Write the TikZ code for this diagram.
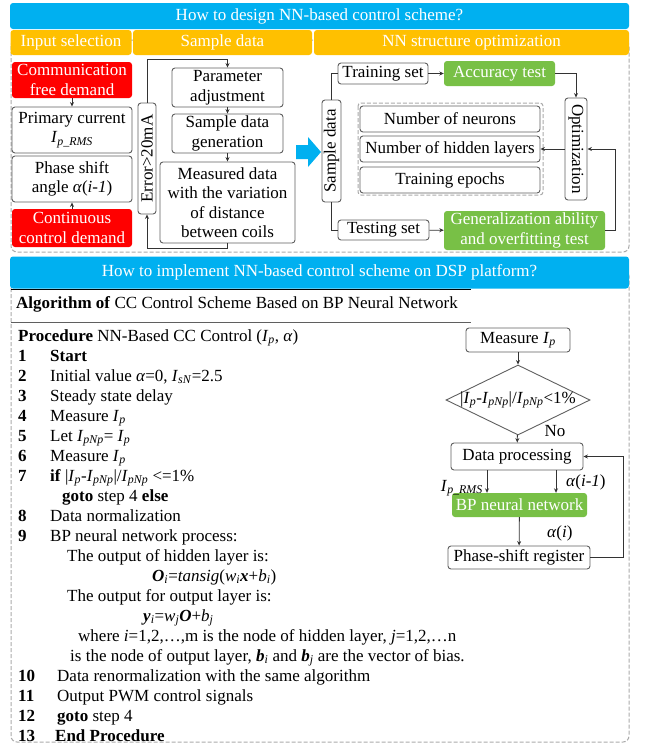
\documentclass[tikz,border=0pt]{standalone}
\usepackage{fontspec}
\usepackage{graphicx}
\setmainfont{Liberation Serif}
\usetikzlibrary{shapes.geometric,arrows.meta}

\definecolor{bannerblue}{RGB}{0,176,240}
\definecolor{headorange}{RGB}{255,192,0}
\definecolor{demandred}{RGB}{255,0,0}
\definecolor{testgreen}{RGB}{120,192,70}
\definecolor{boxgray}{RGB}{95,95,95}
\definecolor{framegray}{RGB}{170,170,170}

\newcommand{\Isub}[1]{\textit{I}\textsubscript{\textit{#1}}}

\tikzset{
	box/.style={draw=boxgray, line width=0.9pt, rounded corners=3pt, fill=white, align=center, inner sep=0pt},
	redbox/.style={fill=demandred, text=white, rounded corners=3pt, align=center, inner sep=0pt},
	greenbox/.style={fill=testgreen, text=white, rounded corners=3pt, align=center, inner sep=0pt},
	banner/.style={fill=bannerblue, text=white, rounded corners=3pt, inner sep=0pt},
	headcell/.style={fill=headorange, text=white, rounded corners=3pt, inner sep=0pt},
	dashframe/.style={draw=framegray, line width=1pt, dash pattern=on 4pt off 2pt, rounded corners=6pt},
	arr/.style={-{Stealth[length=4.5pt,width=4pt]}, draw=black!80, line width=0.8pt},
	link/.style={draw=black!80, line width=0.8pt},
	algtext/.style={anchor=base west, inner sep=0pt},
}

\begin{document}
\begin{tikzpicture}[x=1pt, y=-1pt, font=\fontsize{17}{19.5}\selectfont]
	\useasboundingbox (0,0) rectangle (647,744);

	% design part
	\draw[dashframe] (11,40) rectangle (629,252);
	\node[banner, minimum width=619, minimum height=26] (design) at (319.5,16) {How to design NN-based control scheme?};
	\node[headcell, minimum width=121, minimum height=25] (hinput) at (71,42.5) {Input selection};
	\node[headcell, minimum width=179, minimum height=25] (hsample) at (222.5,42.5) {Sample data};
	\node[headcell, minimum width=315, minimum height=25] (hstruct) at (471.5,42.5) {NN structure optimization};

	% input selection
	\node[redbox, minimum width=120, minimum height=36] (commfree) at (72,80) {Communication\\free demand};
	\node[box, minimum width=120, minimum height=46] (current) at (72,130) {Primary current\\\Isub{p\_RMS}};
	\node[box, minimum width=120, minimum height=46] (phase) at (72,179) {Phase shift\\angle \textit{α}(\textit{i}-\textit{1})};
	\node[redbox, minimum width=120, minimum height=38] (contdem) at (72,228) {Continuous\\control demand};
	\draw[arr] (commfree) -- (current);
	\draw[arr] (contdem) -- (phase);

	% sample data
	\node[box, minimum width=18, minimum height=111] (error) at (147,158.5) {\rotatebox{90}{Error>20mA}};
	\node[box, minimum width=111, minimum height=39] (param) at (227.5,87.5) {Parameter\\adjustment};
	\node[box, minimum width=111, minimum height=39] (gener) at (227.5,133.5) {Sample data\\generation};
	\node[box, minimum width=135, minimum height=81] (measured) at (227.5,202.5) {Measured data\\with the variation\\of distance\\between coils};
	\draw[arr] (error.north) -- ++(0,-43) -| (param.north);
	\draw[arr] (param) -- (gener);
	\draw[arr] (gener) -- (measured);
	\draw[arr] (measured.south) -- ++(0,5) -| (error.south);
	\fill[bannerblue] (296,145) -- (308,145) -- (308,137) -- (321,152) -- (308,167) -- (308,159) -- (296,159) -- cycle;

	% structure optimization
	\node[box, minimum width=19, minimum height=102] (sdata) at (331.5,151) {\rotatebox{90}{Sample data}};
	\node[box, minimum width=90, minimum height=21] (trainset) at (383,73.5) {Training set};
	\node[greenbox, minimum width=111, minimum height=25] (accuracy) at (499.5,73.5) {Accuracy test};
	\node[box, minimum width=22, minimum height=102] (optim) at (576,149) {\rotatebox{-90}{Optimization}};
	\draw[dashframe, rounded corners=3pt] (358,103) rectangle (543,195);
	\node[box, minimum width=180, minimum height=26] (neurons) at (450,119) {Number of neurons};
	\node[box, minimum width=180, minimum height=26] (hidden) at (450,149) {Number of hidden layers};
	\node[box, minimum width=180, minimum height=26] (epochs) at (450,180) {Training epochs};
	\node[box, minimum width=91, minimum height=20] (testset) at (383.5,230) {Testing set};
	\node[greenbox, minimum width=161, minimum height=39] (generalize) at (524.5,230.5) {Generalization ability\\and overfitting test};
	\draw[link] (sdata.north) |- (trainset.west);
	\draw[link] (sdata.south) |- (testset.west);
	\draw[arr] (trainset) -- (accuracy);
	\draw[arr] (testset) -- (generalize);
	\draw[arr] (accuracy.east) -| (optim.north);
	\draw[arr] (generalize.east) -- ++(10,0) |- (optim.east);
	\draw[arr] (optim.west) -- (hidden.east);

	% implementation part
	\draw[dashframe] (11,270) rectangle (629,742);
	\node[banner, minimum width=619, minimum height=32] (implement) at (319.5,272.5) {How to implement NN-based control scheme on DSP platform?};
	\draw[black, line width=1.3pt] (11,289.5) -- (471,289.5);
	\draw[boxgray, line width=0.7pt] (11,322) -- (471,322);
	\node[algtext] (algtitle) at (16,308.5) {\textbf{Algorithm of} CC Control Scheme Based on BP Neural Network};

	\foreach \n/\k in {1/1,2/2,3/3,4/4,5/5,6/6,7/7,8/9,9/10,10/17,11/18,12/19,13/20}
		\node[algtext] (n\n) at (18,341+20*\k) {\textbf{\n}};
	\node[algtext] (l0) at (18,341) {\textbf{Procedure} NN-Based CC Control (\Isub{p}, \textit{α})};
	\node[algtext] (l1) at (50,361) {\textbf{Start}};
	\node[algtext] (l2) at (50,381) {Initial value \textit{α}=0, \Isub{sN}=2.5};
	\node[algtext] (l3) at (50,401) {Steady state delay};
	\node[algtext] (l4) at (50,421) {Measure \Isub{p}};
	\node[algtext] (l5) at (50,441) {Let \Isub{pNp}= \Isub{p}};
	\node[algtext] (l6) at (50,461) {Measure \Isub{p}};
	\node[algtext] (l7) at (50,481) {\textbf{if} |\Isub{p}-\Isub{pNp}|/\Isub{pNp} <=1\%};
	\node[algtext] (l8) at (62,501) {\textbf{goto} step 4 \textbf{else}};
	\node[algtext] (l9) at (50,521) {Data normalization};
	\node[algtext] (l10) at (50,541) {BP neural network process:};
	\node[algtext] (l11) at (67,561) {The output of hidden layer is:};
	\node[algtext] (l12) at (152,581) {\textbf{\textit{O}}\textsubscript{\textit{i}}=\textit{tansig}(\textit{w}\textsubscript{\textit{i}}\textbf{\textit{x}}+\textit{b}\textsubscript{\textit{i}})};
	\node[algtext] (l13) at (67,601) {The output for output layer is:};
	\node[algtext] (l14) at (143,621) {\textbf{\textit{y}}\textsubscript{\textit{i}}=\textit{w}\textsubscript{\textit{j}}\textbf{\textit{O}}+\textit{b}\textsubscript{\textit{j}}};
	\node[algtext] (l15) at (78,641) {where \textit{i}=1,2,…,m is the node of hidden layer, \textit{j}=1,2,…n};
	\node[algtext] (l16) at (70,661) {is the node of output layer, \textbf{\textit{b}}\textsubscript{\textit{i}} and \textbf{\textit{b}}\textsubscript{\textit{j}} are the vector of bias.};
	\node[algtext] (l17) at (57,681) {Data renormalization with the same algorithm};
	\node[algtext] (l18) at (57,701) {Output PWM control signals};
	\node[algtext] (l19) at (57,721) {\textbf{goto} step 4};
	\node[algtext] (l20) at (55,741) {\textbf{End Procedure}};

	% flow chart
	\node[box, minimum width=104, minimum height=24] (measip) at (518,340) {Measure \Isub{p}};
	\node[draw=boxgray, line width=0.9pt, diamond, minimum width=144, minimum height=70, inner sep=0pt] (check) at (518,400) {\makebox[0pt]{|\Isub{p}-\Isub{pNp}|/\Isub{pNp}<1\%}};
	\node[box, minimum width=132, minimum height=27] (dproc) at (517,456.5) {Data processing};
	\node[greenbox, minimum width=135, minimum height=24] (bpnn) at (519.5,505) {BP neural network};
	\node[box, minimum width=142, minimum height=23] (shiftreg) at (519,557.5) {Phase-shift register};
	\draw[arr] (measip) -- (check);
	\draw[arr] (check) -- (dproc);
	\node (nolabel) at (555,431) {No};
	\draw[arr] ([xshift=-30pt]dproc.south) -- ([xshift=-30pt]dproc.south |- bpnn.north);
	\draw[arr] ([xshift=39pt]dproc.south) -- ([xshift=39pt]dproc.south |- bpnn.north);
	\node[anchor=east, inner sep=0pt] (rmslabel) at (483,488) {\Isub{p\_RMS}};
	\node[anchor=west, inner sep=0pt] (prevlabel) at (566,482) {\textit{α}(\textit{i}-\textit{1})};
	\draw[arr] (bpnn) -- (shiftreg);
	\node[anchor=west, inner sep=0pt] (curlabel) at (547,533) {\textit{α}(\textit{i})};
	\draw[arr] (shiftreg.east) -- ++(33,0) |- (dproc.east);
\end{tikzpicture}
\end{document}
